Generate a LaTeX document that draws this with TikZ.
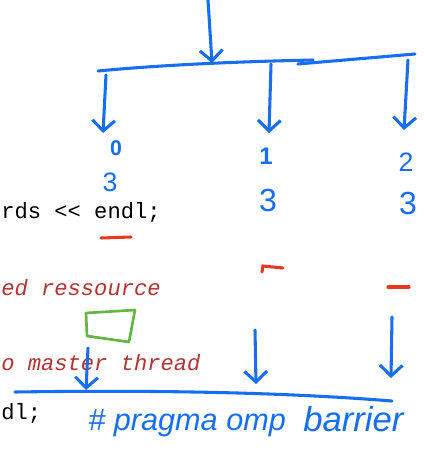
\documentclass[tikz,border=0pt]{standalone}
\usepackage{fontspec}
\setmonofont{Liberation Mono}
\newfontfamily\handfont{Liberation Sans}
\usetikzlibrary{arrows.meta}
\definecolor{inkblue}{RGB}{22,110,240}
\definecolor{inkred}{RGB}{234,56,32}
\definecolor{inkgreen}{RGB}{98,182,66}
\definecolor{codered}{RGB}{180,50,50}

\begin{document}
\begin{tikzpicture}[
		x=0.75pt, y=-0.75pt,
		ink/.style={draw=inkblue, line width=2.3pt, line cap=round, line join=round},
		tip/.style={-{Straight Barb[length=8pt, width=17pt, line width=2.3pt]}},
		code/.style={anchor=base west, inner sep=0pt, font=\ttfamily\fontsize{16.6}{18}\selectfont},
		comment/.style={code, text=codered, font=\ttfamily\itshape\fontsize{16.6}{18}\selectfont},
		hand/.style={inner sep=0pt, text=inkblue, font=\handfont\itshape\bfseries}
	]
  \path[use as bounding box, clip] (0,0) rectangle (425,450);
  % code lines behind the ink
  \node (cout) [code] at (1,218) {rds << endl;};
  \node (shared) [comment] at (1,295) {ed ressource};
  \node (master) [comment] at (1,370) {o master thread};
  \node (last) [code] at (1,419) {dl;};
  % thread ids and values
  \node (t0) [hand, font=\handfont\bfseries\fontsize{16}{16}\selectfont] at (116,148) {0};
  \node (v0) [hand, font=\handfont\fontsize{20}{20}\selectfont] at (110,182) {3};
  \node (t1) [hand, font=\handfont\bfseries\fontsize{18}{18}\selectfont] at (266,156) {1};
  \node (v1) [hand, font=\handfont\fontsize{24}{24}\selectfont] at (268,200) {3};
  \node (t2) [hand, font=\handfont\fontsize{20}{20}\selectfont] at (406,162) {2};
  \node (v2) [hand, font=\handfont\fontsize{24}{24}\selectfont] at (408,203) {3};
  \node (pragma) [hand, anchor=base west, font=\handfont\itshape\fontsize{23}{23}\selectfont] at (88,430) {\# pragma omp};
  \node (barrier) [hand, anchor=base west, font=\handfont\itshape\fontsize{26}{26}\selectfont] at (303,431) {barrier};
  % fork
  \coordinate (top) at (208,0);
  \coordinate (fork) at (212,63);
  \coordinate (bar_l) at (98,71);
  \coordinate (bar_m) at (313,60);
  \coordinate (bar_s) at (298,64);
  \coordinate (bar_r) at (415,54);
  \draw[ink] (bar_l) .. controls (150,66) and (220,62) .. (bar_m);
  \draw[ink] (bar_s) -- (bar_r);
  \draw[ink, tip] (top) -- (fork);
  \coordinate (f0) at (106,75);
  \coordinate (f1) at (271,64);
  \coordinate (f2) at (408,60);
  \draw[ink, tip] (f0) -- (103,133);
  \draw[ink, tip] (f1) -- (269,133);
  \draw[ink, tip] (f2) -- (404,130);
  % red marks
  \draw[inkred, line width=2.3pt, line cap=round] (101,238) -- (131,237);
  \draw[inkred, line width=2.3pt, line cap=round] (262,272) -- (263,266) -- (283,268);
  \draw[inkred, line width=2.3pt, line cap=round] (388,287) -- (409,287);
  % green box
  \draw[inkgreen, line width=2pt, line join=round] (86,313) -- (135,310) -- (129,342) -- (87,336) -- cycle;
  % join
  \coordinate (j_l) at (15,392);
  \coordinate (j_r) at (392,401);
  \draw[ink] (j_l) .. controls (150,390) and (280,392) .. (j_r);
  \draw[ink, tip] (88,348) -- (86,390);
  \draw[ink, tip] (255,330) -- (256,384);
  \draw[ink, tip] (392,317) -- (391,378);
\end{tikzpicture}
\end{document}
